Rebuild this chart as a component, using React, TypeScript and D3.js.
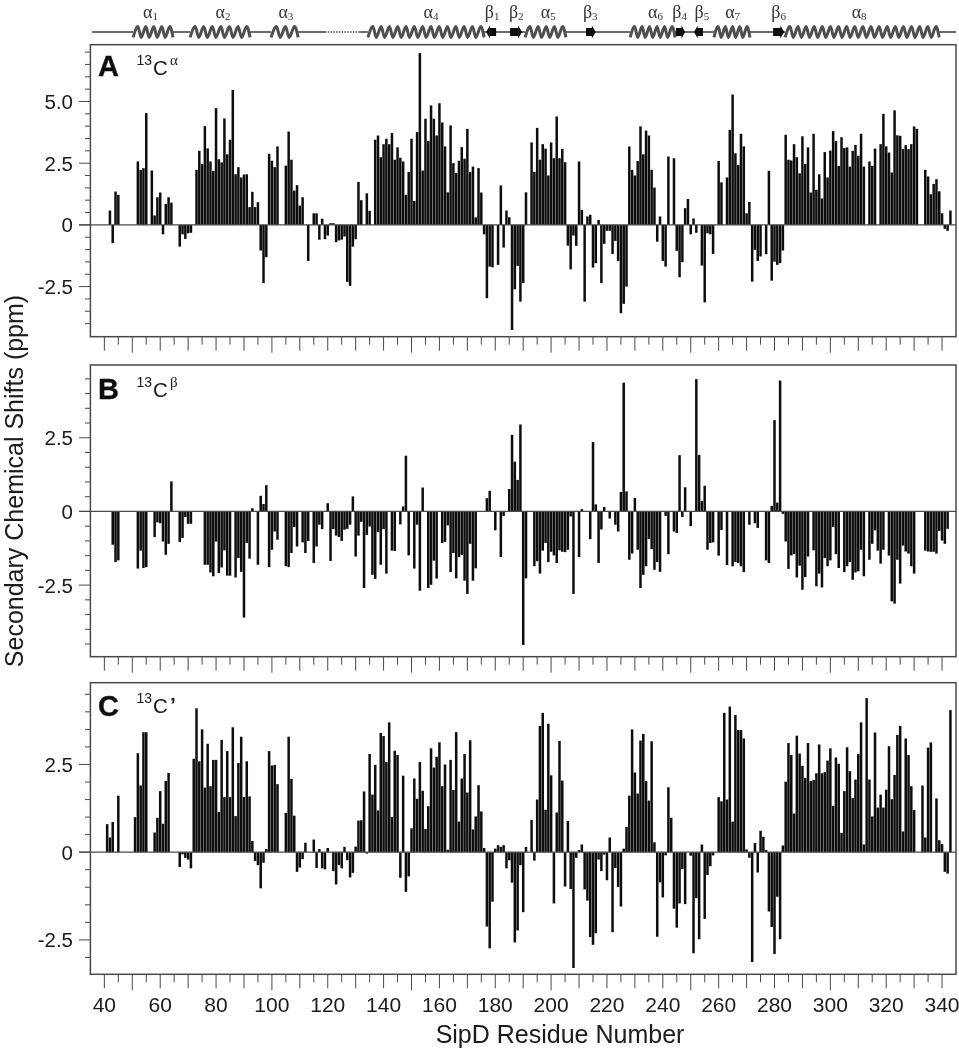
import React from "react";
import * as d3 from "d3";

type Pt = [number, number];

const caShifts: Pt[] = [[42,0.58],[43,-0.74],[44,1.35],[45,1.22],[52,2.57],[53,2.23],[54,2.3],[55,4.53],[57,2.2],[58,0.38],[59,1.12],[60,1.31],[61,-0.38],[62,0.85],[63,1.12],[64,0.9],[67,-0.88],[68,-0.38],[69,-0.57],[70,-0.34],[71,-0.32],[73,2.23],[74,3.0],[75,2.47],[76,4.0],[77,3.1],[78,2.57],[79,2.19],[80,4.73],[81,2.66],[82,2.53],[83,4.31],[84,2.86],[85,3.45],[86,5.47],[87,2.05],[88,2.34],[89,1.92],[90,2.04],[91,2.05],[92,0.72],[93,1.34],[94,0.72],[95,0.92],[96,-1.04],[97,-2.36],[98,-1.31],[99,2.88],[100,2.6],[101,2.34],[102,3.18],[105,2.4],[106,3.78],[107,2.64],[108,1.39],[109,1.61],[110,0.78],[111,1.12],[113,-1.46],[115,0.47],[116,0.47],[117,-0.6],[118,0.25],[119,-0.58],[120,-0.43],[121,0.07],[122,0.07],[123,-0.7],[124,-0.63],[125,-0.6],[126,-0.47],[127,-2.31],[128,-2.47],[129,-0.88],[130,-0.58],[131,1.74],[132,1.0],[134,1.28],[135,0.57],[137,3.45],[138,3.62],[139,2.74],[140,3.27],[141,3.49],[142,3.27],[143,3.72],[144,2.64],[145,3.14],[146,2.72],[147,2.57],[148,1.22],[149,2.14],[150,3.49],[151,0.97],[152,3.76],[153,6.96],[154,2.2],[155,4.3],[156,3.4],[157,4.84],[158,4.3],[159,3.62],[160,4.93],[161,4.15],[162,3.18],[163,1.32],[164,4.03],[165,2.5],[166,2.1],[167,2.6],[168,3.15],[169,2.68],[170,3.89],[171,2.14],[172,2.36],[173,0.3],[174,2.3],[175,1.31],[176,-0.38],[177,-2.97],[178,-1.69],[179,-1.72],[181,-1.62],[182,1.6],[183,-0.92],[184,0.58],[185,0.31],[186,-4.26],[187,-2.61],[188,-1.66],[189,-3.11],[190,-2.36],[191,1.32],[193,3.34],[194,2.15],[195,3.93],[196,2.64],[197,3.27],[198,3.09],[199,2.0],[200,3.34],[201,2.7],[202,4.39],[203,2.7],[204,3.08],[205,2.54],[206,-0.84],[207,-1.8],[208,-0.43],[209,-0.85],[210,2.57],[211,0.61],[212,-3.11],[213,0.34],[214,0.41],[215,-1.73],[216,-1.55],[217,0.2],[218,-2.36],[219,-0.77],[220,-0.24],[221,-0.24],[222,-1.18],[223,-0.65],[224,-1.46],[225,-3.58],[226,-3.2],[227,-2.5],[228,3.18],[229,2.23],[230,2.0],[231,2.59],[232,3.99],[233,2.86],[234,3.82],[235,3.62],[236,2.23],[237,1.51],[238,-0.68],[239,0.34],[240,-1.46],[241,-1.69],[242,2.77],[244,2.7],[245,-1.05],[246,-2.12],[247,-1.51],[248,0.68],[249,1.05],[250,-0.38],[251,0.26],[252,-0.32],[254,-1.65],[255,-3.14],[256,-0.34],[257,-0.38],[258,-1.18],[260,2.59],[261,1.72],[263,1.92],[264,3.85],[265,5.28],[266,2.9],[267,2.43],[268,3.69],[269,3.18],[270,0.47],[271,0.93],[272,-2.3],[273,-1.01],[274,-1.46],[275,-1.28],[277,-1.19],[278,2.19],[279,-2.26],[280,-1.49],[281,-1.62],[282,-1.55],[283,-1.04],[284,3.65],[285,2.64],[286,2.61],[287,3.27],[288,2.74],[289,2.09],[290,3.59],[291,2.47],[292,3.14],[293,1.31],[294,3.69],[295,1.42],[296,2.05],[297,1.07],[298,2.95],[299,1.92],[300,3.01],[301,3.8],[302,3.4],[303,2.39],[304,3.55],[305,3.11],[306,3.14],[307,2.36],[308,3.0],[309,3.24],[310,2.8],[311,3.69],[312,2.36],[314,2.57],[315,2.39],[316,3.09],[318,3.27],[319,4.5],[320,3.18],[321,2.93],[322,2.12],[323,4.64],[324,3.63],[325,3.61],[326,3.08],[327,3.23],[328,3.07],[329,3.27],[330,3.99],[331,3.89],[334,2.23],[335,1.96],[336,1.24],[337,1.66],[338,1.85],[339,1.36],[340,0.47],[341,-0.16],[342,-0.24],[343,0.58]];

const cbShifts: Pt[] = [[43,-1.13],[44,-1.72],[45,-1.66],[52,-1.94],[53,-1.33],[54,-1.92],[55,-1.89],[58,-0.87],[59,-0.37],[60,-0.4],[61,-1.02],[62,-1.47],[63,-1.1],[64,1.02],[67,-1.04],[68,-0.9],[69,-0.19],[70,-0.42],[71,-0.42],[76,-1.81],[77,-1.81],[78,-2.07],[79,-2.2],[80,-1.02],[81,-2.09],[82,-1.9],[83,-1.32],[84,-2.18],[85,-2.18],[87,-2.24],[88,-1.58],[89,-2.05],[90,-3.6],[91,-1.07],[92,-1.6],[93,0.11],[95,-1.81],[96,0.53],[97,0.25],[98,0.89],[99,-1.89],[100,-1.3],[101,-0.68],[102,-0.96],[105,-1.86],[106,-1.89],[107,-1.41],[108,-0.53],[109,-1.19],[111,-1.05],[112,-1.41],[113,-1.0],[115,-1.75],[116,-1.19],[117,-0.45],[118,-0.6],[120,0.28],[121,-1.68],[122,-0.6],[123,-0.82],[124,-0.87],[125,-1.0],[126,-0.62],[127,-0.59],[128,-0.45],[129,0.51],[130,-1.53],[131,-0.82],[132,-0.35],[133,-2.6],[134,-0.8],[135,-0.51],[136,-2.15],[137,-2.29],[138,-0.7],[139,-1.81],[140,-0.6],[141,-2.11],[143,-1.33],[144,-1.34],[146,-0.44],[147,0.17],[148,1.89],[149,-1.49],[151,-1.94],[152,-0.45],[153,-2.69],[154,0.81],[156,-2.6],[157,-2.49],[158,-1.67],[159,-2.28],[161,-1.07],[162,-1.03],[163,-0.47],[164,-2.06],[165,-1.41],[166,-2.27],[167,-1.55],[168,-1.48],[169,-2.35],[170,-2.8],[171,-1.1],[172,-2.35],[173,-1.93],[177,0.45],[178,0.7],[180,-0.64],[182,-1.55],[183,-0.15],[185,0.76],[186,2.6],[187,1.69],[188,1.07],[189,2.95],[190,-4.53],[191,-2.27],[194,-1.86],[195,-1.69],[196,-2.11],[197,-1.33],[198,-1.07],[199,-1.72],[200,-1.37],[201,-1.49],[202,-1.75],[203,-1.32],[204,-1.37],[205,-1.38],[206,-1.3],[207,-0.17],[208,-2.8],[210,-1.55],[211,0.08],[214,-0.94],[215,2.36],[216,0.24],[217,-1.75],[218,-0.61],[219,0.15],[221,-0.24],[223,-0.45],[224,-0.68],[225,0.66],[226,4.37],[227,0.68],[228,-1.64],[229,-1.43],[230,0.46],[231,-1.3],[232,-2.6],[233,-2.15],[234,-1.86],[235,-0.93],[236,-1.28],[237,-1.98],[238,-1.72],[239,-2.05],[241,-0.15],[242,-1.45],[244,-0.68],[245,-0.73],[246,1.91],[247,-0.19],[248,0.82],[250,-0.5],[252,4.49],[253,1.92],[254,0.36],[255,0.87],[256,-1.3],[257,-1.07],[258,-1.05],[260,-1.5],[261,-0.63],[263,-1.82],[265,-1.86],[266,-1.72],[267,-1.75],[268,-1.86],[269,-2.06],[271,-0.45],[273,-0.4],[274,-0.56],[277,-1.66],[278,-1.75],[279,0.19],[280,3.1],[281,0.3],[282,4.44],[283,-0.08],[284,-1.02],[285,-1.95],[286,-1.49],[287,-1.45],[288,-2.24],[289,-1.84],[290,-2.66],[291,-2.23],[292,-1.53],[294,-1.32],[295,-2.54],[296,-2.11],[297,-2.58],[298,-1.58],[299,-1.86],[300,-1.66],[301,-0.53],[302,-1.45],[303,-1.92],[305,-2.06],[306,-1.86],[307,-1.72],[308,-2.32],[309,-2.07],[310,-2.03],[311,-1.3],[312,-2.2],[314,-1.64],[315,-1.1],[316,-0.64],[317,-1.33],[318,-1.77],[319,-1.3],[321,-1.5],[322,-3.05],[323,-3.13],[324,-1.64],[325,-2.45],[326,-1.16],[327,-1.36],[328,-1.43],[329,-1.86],[330,-2.11],[334,-1.33],[335,-1.36],[336,-1.37],[337,-1.37],[338,-1.43],[339,-0.66],[340,-0.99],[341,-1.1],[342,-0.59]];

const coShifts: Pt[] = [[41,0.8],[42,0.42],[43,0.86],[45,1.61],[51,1.0],[52,2.82],[53,1.9],[54,3.42],[55,3.42],[58,0.56],[59,0.98],[60,1.74],[61,0.81],[62,2.03],[63,2.26],[67,-0.42],[68,-0.06],[69,-0.16],[70,-0.21],[71,-0.46],[72,2.66],[73,4.1],[74,2.59],[75,3.5],[76,1.84],[77,3.09],[78,1.88],[79,2.63],[80,2.63],[81,1.15],[82,3.2],[83,1.57],[84,2.88],[85,1.57],[86,3.56],[87,1.03],[88,2.54],[89,3.29],[90,1.57],[91,2.59],[92,1.59],[93,0.32],[94,-0.25],[95,-0.37],[96,-1.03],[97,-0.3],[98,0.09],[99,2.88],[100,2.47],[101,2.49],[102,1.94],[105,1.12],[106,3.29],[107,2.09],[108,1.04],[109,-0.56],[110,-0.44],[111,-0.2],[112,0.27],[115,0.36],[116,-0.45],[117,0.09],[118,-0.46],[119,-0.49],[120,0.12],[122,-0.54],[123,-0.92],[124,-0.37],[125,-0.46],[126,0.15],[127,-0.23],[128,-0.72],[129,-0.59],[130,0.16],[131,0.9],[132,0.91],[133,1.73],[134,-0.04],[135,2.8],[136,1.64],[137,2.49],[138,1.19],[139,3.4],[140,3.31],[141,2.57],[142,3.7],[143,1.0],[144,2.89],[145,2.77],[146,-0.73],[147,2.18],[148,-1.13],[149,-0.69],[150,0.68],[151,2.1],[152,1.52],[153,2.57],[154,1.75],[155,0.66],[156,1.31],[157,2.96],[158,2.41],[159,2.72],[160,3.13],[161,1.88],[162,2.5],[163,0.07],[164,2.63],[165,1.77],[166,3.42],[167,0.87],[168,2.1],[169,2.8],[170,1.7],[171,3.19],[172,0.65],[173,1.02],[174,1.91],[175,1.16],[176,0.12],[177,-2.12],[178,-2.74],[179,-1.41],[180,0.1],[181,0.2],[182,0.15],[183,0.2],[184,-0.46],[185,-0.23],[186,-0.87],[187,-2.57],[188,-2.23],[189,-0.37],[190,-1.71],[191,0.15],[193,0.92],[194,-0.24],[195,1.5],[196,3.6],[197,3.97],[198,1.21],[199,3.66],[200,2.19],[201,-1.46],[202,1.13],[203,3.17],[204,2.04],[205,-0.98],[206,0.89],[207,-1.05],[208,-3.3],[209,-0.16],[210,0.06],[211,0.22],[212,-1.06],[213,-1.38],[214,-2.42],[215,-2.64],[216,-2.31],[217,-0.21],[218,-0.54],[219,-0.07],[220,-0.8],[221,0.42],[222,-2.28],[223,-0.45],[224,-0.99],[225,-1.55],[226,0.1],[227,0.72],[228,1.61],[229,3.5],[230,2.27],[231,1.67],[232,3.18],[233,3.37],[234,2.03],[235,1.47],[236,3.16],[237,0.28],[238,-2.41],[239,-0.86],[240,-1.29],[241,-0.09],[242,1.85],[243,0.98],[244,-1.61],[245,-2.15],[246,-1.46],[247,-0.48],[248,-1.48],[250,-0.1],[251,-2.88],[252,-1.31],[253,-2.48],[254,0.22],[255,-1.9],[256,-0.65],[257,-0.4],[258,-0.09],[260,1.57],[261,1.45],[262,3.97],[263,1.5],[264,4.15],[265,0.87],[266,3.91],[267,3.48],[268,3.48],[269,3.24],[270,0.08],[271,-0.16],[272,-3.13],[273,0.26],[274,-0.58],[275,0.61],[276,0.44],[277,0.06],[278,-1.69],[279,-2.13],[280,-2.9],[281,-1.27],[282,-2.48],[283,0.19],[284,2.01],[285,3.11],[286,2.77],[287,1.1],[288,3.32],[289,2.81],[290,2.46],[291,2.12],[292,3.11],[293,2.03],[294,2.06],[295,2.25],[296,3.07],[297,2.25],[298,2.28],[299,2.61],[300,2.96],[301,1.32],[302,2.7],[303,2.52],[304,0.55],[305,1.74],[306,2.99],[307,2.31],[308,1.54],[309,2.07],[310,2.8],[311,3.7],[312,0.22],[313,4.39],[314,2.07],[315,1.02],[316,3.41],[317,1.27],[318,1.64],[319,1.27],[320,1.78],[321,3.02],[322,1.51],[323,2.2],[324,3.34],[325,3.6],[326,0.59],[327,3.24],[328,2.77],[329,1.88],[330,1.2],[333,1.9],[334,0.42],[335,2.98],[336,3.13],[338,1.53],[339,0.34],[340,0.23],[341,-0.56],[342,-0.61],[343,4.05]];

const xTickValues = d3.range(40, 345, 5);
const xTickLabels = d3.range(40, 341, 20);
const yLabelValues = [5, 2.5, 0, -2.5];

const helices: { name: string; from: number; to: number; turns: number; label: number }[] = [
  { name: "1", from: 50.3, to: 64.6, turns: 5, label: 56.5 },
  { name: "2", from: 70.7, to: 92.2, turns: 7, label: 82.5 },
  { name: "3", from: 99.7, to: 109.4, turns: 3, label: 105 },
  { name: "4", from: 134.4, to: 176, turns: 14, label: 157 },
  { name: "5", from: 190.7, to: 205.3, turns: 5, label: 199 },
  { name: "6", from: 228.3, to: 244.4, turns: 6, label: 237.4 },
  { name: "7", from: 258.3, to: 271.2, turns: 5, label: 265 },
  { name: "8", from: 283.8, to: 339, turns: 19, label: 310.3 },
];
const strands: { name: string; from: number; to: number; dir: number; label: number }[] = [
  { name: "1", from: 176.7, to: 180.3, dir: -1, label: 178.9 },
  { name: "2", from: 185.3, to: 189.6, dir: 1, label: 187.5 },
  { name: "3", from: 212.5, to: 216, dir: 1, label: 214 },
  { name: "4", from: 244.7, to: 248, dir: 1, label: 246 },
  { name: "5", from: 251.2, to: 254.4, dir: -1, label: 254 },
  { name: "6", from: 279.5, to: 283.5, dir: 1, label: 281.5 },
];
const coilSegments: [number, number][] = [[35.6, 119], [131.6, 345]];
const disorderedSegment: [number, number] = [119, 131.6];

const x = d3.scaleLinear().domain([35, 345]).range([90.4, 956]);
const SANS = "'Liberation Sans', Arial, sans-serif";
const SERIF = "'Liberation Serif', 'DejaVu Serif', serif";
const INK = "#0d0d0d";
const AXIS = "#4a4a4a";

type PanelDef = {
  data: Pt[];
  top: number;
  bottom: number;
  domain: [number, number];
  minorFrom: number;
  minorTo: number;
  letter: string;
  letterY: number;
  superY: number;
  cY: number;
  atom: string;
  showLabels: boolean;
};

const panels: PanelDef[] = [
  { data: caShifts, top: 44.7, bottom: 336.7, domain: [-4.53, 7.3], minorFrom: -4, minorTo: 7, letter: "A", letterY: 76, superY: 65, cY: 75, atom: "\u03b1", showLabels: false },
  { data: cbShifts, top: 365, bottom: 656.7, domain: [-4.93, 4.97], minorFrom: -4.5, minorTo: 4.5, letter: "B", letterY: 399, superY: 387, cY: 397, atom: "\u03b2", showLabels: false },
  { data: coShifts, top: 682.7, bottom: 974.3, domain: [-3.48, 4.83], minorFrom: -3, minorTo: 4.5, letter: "C", letterY: 716, superY: 703, cY: 713, atom: "\u2019", showLabels: true },
];

function Panel({ p }: { p: PanelDef }) {
  const y = d3.scaleLinear().domain(p.domain).range([p.bottom, p.top]);
  const minor = d3.range(p.minorFrom, p.minorTo + 0.01, 0.5);
  const bw = 2.5;
  return (
    <g>
      {p.data.map(([r, v]) => (
        <rect key={r} x={x(r) - bw / 2} width={bw} y={Math.min(y(v), y(0))} height={Math.abs(y(v) - y(0))} fill={INK} />
      ))}
      <line x1={79} x2={x(345)} y1={y(0)} y2={y(0)} stroke={AXIS} strokeWidth={1.2} />
      <rect x={x(35)} y={p.top} width={x(345) - x(35)} height={p.bottom - p.top} fill="none" stroke={AXIS} strokeWidth={1.5} />
      {minor.map((t) => {
        const major = Math.abs(t % 2.5) < 1e-6;
        return <line key={t} x1={major ? 79 : 85} x2={x(35)} y1={y(t)} y2={y(t)} stroke={AXIS} strokeWidth={1} />;
      })}
      {yLabelValues.filter((t) => t <= p.domain[1] && t >= p.domain[0] && !(p.letter !== "A" && t === 5)).map((t) => (
        <text key={t} x={73} y={y(t) + 7.4} textAnchor="end" fontFamily={SANS} fontSize={20.5} fill="#1a1a1a">
          {t === 0 ? "0" : t.toFixed(1)}
        </text>
      ))}
      {xTickValues.map((t) => {
        const len = t % 50 === 0 ? 16 : t % 10 === 0 ? 14 : 8;
        return <line key={t} x1={x(t)} x2={x(t)} y1={p.bottom} y2={p.bottom + len} stroke={AXIS} strokeWidth={1} />;
      })}
      {p.showLabels && xTickLabels.map((t) => (
        <text key={t} x={x(t)} y={1011.5} textAnchor="middle" fontFamily={SANS} fontSize={21} fill="#1a1a1a">{t}</text>
      ))}
      <text x={98} y={p.letterY} fontFamily={SANS} fontWeight="bold" fontSize={29} fill="#0d0d0d" stroke="#0d0d0d" strokeWidth={0.3}>{p.letter}</text>
      <text x={136.5} y={p.superY} fontFamily={SANS} fontSize={14} fill="#1a1a1a">13</text>
      <text x={153} y={p.cY} fontFamily={SANS} fontSize={20.5} fill="#1a1a1a">C</text>
      {p.atom === "\u2019" ? (
        <text x={170} y={p.cY - 1} fontFamily={SANS} fontWeight="bold" fontSize={21} fill="#1a1a1a">{p.atom}</text>
      ) : (
        <text x={170} y={p.superY} fontFamily={SERIF} fontSize={15} fill="#1a1a1a">{p.atom}</text>
      )}
    </g>
  );
}

function helixPath(from: number, to: number, turns: number, yc: number, amp: number) {
  const x0 = x(from), x1 = x(to);
  const pts: [number, number][] = [];
  const step = (x1 - x0) / turns;
  for (let i = 0; i < turns; i++) {
    pts.push([x0 + i * step, yc + amp]);
    pts.push([x0 + (i + 0.6) * step, yc - amp]);
  }
  pts.push([x1, yc + amp]);
  return d3.line().curve(d3.curveMonotoneX)(pts) as string;
}

function arrowPath(from: number, to: number, dir: number, yc: number) {
  const a = x(from), b = x(to);
  const tip = dir > 0 ? b : a;
  const tail = dir > 0 ? a : b;
  const neck = tip - dir * Math.min(4, (b - a) * 0.4);
  const pts: [number, number][] = [
    [tail, yc - 4], [neck, yc - 4], [neck, yc - 6.5], [tip, yc], [neck, yc + 6.5], [neck, yc + 4], [tail, yc + 4],
  ];
  return (d3.line()(pts) as string) + "Z";
}

function Topology() {
  const yc = 32;
  return (
    <g>
      {coilSegments.map(([a, b]) => (
        <line key={a} x1={x(a)} x2={x(b)} y1={yc} y2={yc} stroke="#3a3a3a" strokeWidth={1.6} />
      ))}
      <line x1={x(disorderedSegment[0])} x2={x(disorderedSegment[1])} y1={yc} y2={yc} stroke="#3a3a3a" strokeWidth={1.6} strokeDasharray="1.4 1.4" />
      {helices.map((h) => (
        <g key={h.name}>
          <rect x={x(h.from)} y={yc - 2} width={x(h.to) - x(h.from)} height={4} fill="#fff" />
          <path d={helixPath(h.from, h.to, h.turns, yc, 5.4)} fill="none" stroke="#505050" strokeWidth={3} />
          <text x={x(h.label)} y={17.5} textAnchor="middle" fontFamily={SERIF} fontSize={18} fill="#333">
            {"\u03b1"}
            <tspan fontSize={11} dy={2}>{h.name}</tspan>
          </text>
        </g>
      ))}
      {strands.map((s) => (
        <g key={s.name}>
          <path d={arrowPath(s.from, s.to, s.dir, yc)} fill="#0a0a0a" />
          <text x={x(s.label)} y={17.5} textAnchor="middle" fontFamily={SERIF} fontSize={18} fill="#333">
            {"\u03b2"}
            <tspan fontSize={11} dy={2}>{s.name}</tspan>
          </text>
        </g>
      ))}
    </g>
  );
}

export default function App() {
  return (
    <svg width={959} height={1050} viewBox="0 0 959 1050" style={{ position: "absolute", left: 0, top: 0, background: "#fff" }}>
      <defs>
        <filter id="soft" x="0" y="0" width="100%" height="100%">
          <feGaussianBlur stdDeviation="0.4" />
        </filter>
      </defs>
      <g filter="url(#soft)">
        <Topology />
        {panels.map((p) => <Panel key={p.letter} p={p} />)}
        <text transform="translate(23,481) rotate(-90)" textAnchor="middle" fontFamily={SANS} fontSize={25} fill="#1a1a1a">Secondary Chemical Shifts (ppm)</text>
        <text x={560} y={1043} textAnchor="middle" fontFamily={SANS} fontSize={25} fill="#1a1a1a">SipD Residue Number</text>
      </g>
    </svg>
  );
}
